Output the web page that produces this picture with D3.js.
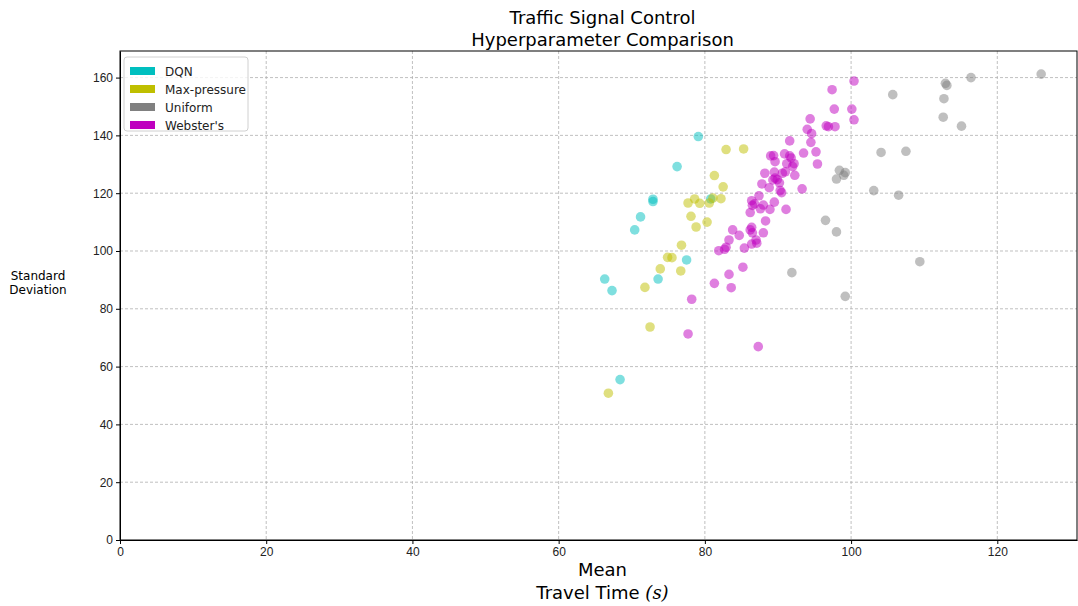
<!DOCTYPE html>
<html lang="en">
<head>
<meta charset="UTF-8">
<title>Traffic Signal Control</title>
<script src="https://d3js.org/d3.v7.min.js"></script>
<style>
  body { margin: 0; background: #fff; }
  svg { font-family: "DejaVu Sans", sans-serif; }
  .grid line { stroke: #b0b0b0; stroke-dasharray: 3,2; stroke-width: 0.8; }
  .axis text { font-size: 12px; fill: #222; }
  .axis path, .axis line { stroke: #000; }
</style>
</head>
<body>
<svg id="chart" width="1078" height="606"></svg>
<script>
// [mean, std] pairs
const dqn = [
  [79.1, 139.6], [76.2, 129.2], [72.9, 117.9], [72.9, 117.1], [71.2, 111.8],
  [70.4, 107.3], [80.8, 118.0], [77.5, 96.9], [73.6, 90.3], [66.3, 90.3],
  [67.3, 86.3], [68.4, 55.5]
];
const maxPressure = [
  [82.9, 135.1], [85.3, 135.3], [81.3, 126.1], [82.5, 122.2], [82.2, 118.1],
  [81.1, 118.3], [80.6, 116.6], [78.6, 118.0], [77.7, 116.6], [79.3, 116.5],
  [78.1, 112.0], [80.3, 110.0], [78.8, 108.3], [76.8, 102.0], [74.9, 97.8],
  [75.5, 97.7], [73.9, 93.8], [76.7, 93.1], [71.8, 87.4], [72.5, 73.7],
  [66.8, 50.8]
];
const uniform = [
  [126.0, 161.2], [116.4, 160.0], [112.9, 158.0], [113.1, 157.3], [105.7, 154.1],
  [112.7, 152.7], [112.6, 146.3], [115.1, 143.2], [104.1, 134.1], [107.5, 134.5],
  [98.4, 127.9], [99.2, 127.1], [99.0, 126.2], [98.0, 124.9], [103.1, 120.9],
  [106.5, 119.3], [96.5, 110.6], [98.0, 106.6], [109.4, 96.3], [99.2, 84.3],
  [91.9, 92.5]
];
const websters = [
  [100.4, 158.8], [97.4, 155.8], [97.7, 149.1], [100.1, 149.1], [100.4, 145.4],
  [94.4, 145.7], [94.0, 142.1], [94.6, 140.6], [96.6, 143.3], [96.9, 143.0],
  [97.8, 143.0], [94.5, 137.6], [91.6, 138.1], [95.2, 134.3], [95.4, 130.1],
  [93.5, 133.9], [89.0, 132.9], [89.4, 133.0], [89.6, 130.9], [90.9, 133.6],
  [91.6, 132.9], [91.8, 132.2], [92.2, 130.2], [92.0, 129.2], [91.2, 130.2],
  [88.2, 126.9], [89.5, 127.3], [91.0, 127.4], [90.6, 126.9], [92.3, 126.2],
  [89.6, 125.2], [89.3, 124.6], [89.9, 124.7], [90.2, 123.6], [87.8, 123.2],
  [88.8, 121.9], [90.3, 120.9], [93.3, 121.5], [90.5, 120.2], [87.4, 119.1],
  [86.4, 117.4], [86.5, 115.8], [86.8, 116.3], [88.0, 115.9], [89.5, 116.9],
  [86.2, 113.3], [87.6, 114.6], [88.9, 114.4], [91.1, 114.4], [88.3, 110.4],
  [83.8, 107.3], [84.7, 105.4], [86.2, 107.3], [86.4, 108.2], [88.0, 106.3],
  [83.3, 103.8], [87.0, 103.8], [86.4, 102.4], [85.4, 101.0], [81.9, 100.1],
  [82.7, 100.6], [82.9, 101.3], [85.2, 94.4], [83.3, 91.9], [81.3, 88.8],
  [83.6, 87.3], [87.3, 66.9], [78.2, 83.3], [77.7, 71.3], [87.1, 102.7],
  [86.5, 106.3]
];

const seriesNames = ["DQN", "Max-pressure", "Uniform", "Webster's"];
const seriesColors = ["#00bfbf", "#bfbf00", "#808080", "#bf00bf"];
const seriesData = [dqn, maxPressure, uniform, websters];
const xTicks = [0, 20, 40, 60, 80, 100, 120];
const yTicks = [0, 20, 40, 60, 80, 100, 120, 140, 160];

const margin = { left: 120, top: 51, right: 1, bottom: 66 };
const W = 1078, H = 606;
const iw = W - margin.left - margin.right;
const ih = H - margin.top - margin.bottom;

const svg = d3.select("#chart");
const g = svg.append("g").attr("transform", `translate(${margin.left},${margin.top})`);

const x = d3.scaleLinear().domain([0, 130.9]).range([0, iw]);
const y = d3.scaleLinear().domain([0, 169.2]).range([ih, 0]);

// grid
g.append("g").attr("class", "grid")
  .selectAll("line").data(xTicks.slice(1)).join("line")
  .attr("x1", d => x(d)).attr("x2", d => x(d)).attr("y1", 0).attr("y2", ih);
g.append("g").attr("class", "grid")
  .selectAll("line").data(yTicks.slice(1)).join("line")
  .attr("y1", d => y(d)).attr("y2", d => y(d)).attr("x1", 0).attr("x2", iw);

// points
seriesData.forEach((data, i) => {
  g.append("g").selectAll("circle").data(data).join("circle")
    .attr("cx", d => x(d[0]))
    .attr("cy", d => y(d[1]))
    .attr("r", 4.8)
    .attr("fill", seriesColors[i])
    .attr("fill-opacity", 0.5);
});

// axes
g.append("g").attr("class", "axis")
  .attr("transform", `translate(0,${ih})`)
  .call(d3.axisBottom(x).tickValues(xTicks).tickSize(4).tickPadding(3).tickSizeOuter(0));
g.append("g").attr("class", "axis")
  .call(d3.axisLeft(y).tickValues(yTicks).tickSize(4).tickPadding(3).tickSizeOuter(0));

// frame
g.append("rect").attr("width", iw).attr("height", ih)
  .attr("fill", "none").attr("stroke", "#000").attr("stroke-width", 1);

// title
const cx = margin.left + iw / 2;
svg.append("text").attr("x", cx + 4).attr("y", 24).attr("text-anchor", "middle")
  .attr("font-size", 18).text("Traffic Signal Control");
svg.append("text").attr("x", cx + 4).attr("y", 46).attr("text-anchor", "middle")
  .attr("font-size", 18).text("Hyperparameter Comparison");

// x label
svg.append("text").attr("x", cx + 4).attr("y", 576).attr("text-anchor", "middle")
  .attr("font-size", 18).text("Mean");
const xl = svg.append("text").attr("x", cx + 4).attr("y", 599).attr("text-anchor", "middle")
  .attr("font-size", 18);
xl.append("tspan").text("Travel Time ");
xl.append("tspan").attr("font-family", "DejaVu Serif, serif").attr("font-style", "italic").text("(s)");

// y label
svg.append("text").attr("x", 38).attr("y", 280).attr("text-anchor", "middle")
  .attr("font-size", 12).text("Standard");
svg.append("text").attr("x", 38).attr("y", 294).attr("text-anchor", "middle")
  .attr("font-size", 12).text("Deviation");

// legend
const lg = svg.append("g").attr("transform", "translate(124,57)");
lg.append("rect").attr("width", 124).attr("height", 74).attr("rx", 3)
  .attr("fill", "#fff").attr("fill-opacity", 0.8).attr("stroke", "#d0d0d0");
seriesNames.forEach((name, i) => {
  const row = lg.append("g").attr("transform", `translate(6,${10 + i * 18})`);
  row.append("rect").attr("width", 25).attr("height", 8).attr("fill", seriesColors[i]);
  row.append("text").attr("x", 35).attr("y", 8.5).attr("font-size", 12).attr("fill", "#222").text(name);
});
</script>
</body>
</html>
